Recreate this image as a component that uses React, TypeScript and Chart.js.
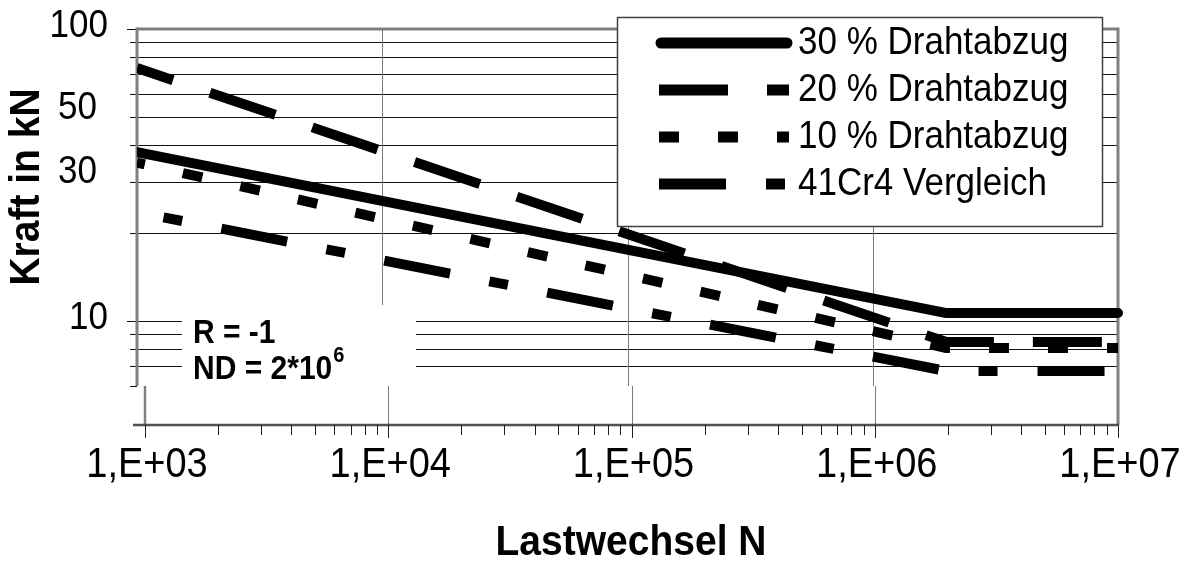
import React, { useEffect, useRef } from 'react';
import { Chart, registerables } from 'chart.js';

Chart.register(...registerables);

// ---------- data ----------
const seriesNames = ['30 % Drahtabzug', '20 % Drahtabzug', '10 % Drahtabzug', '41Cr4 Vergleich'];
const cycles = [1e3, 2e6, 1e7];
const force30 = [37.9, 10.65, 10.65];
const force20 = [73.5, 8.47, 8.47];
const force10 = [34.9, 8.08, 8.08];
const force41Cr4 = [23.6, 6.74, 6.74];

const xTicks = [1e3, 1e4, 1e5, 1e6, 1e7];
const xTickLabels = ['1,E+03', '1,E+04', '1,E+05', '1,E+06', '1,E+07'];
const yTicks = [100, 50, 30, 10];
const yTickLabels = ['100', '50', '30', '10'];
const yGrid = [7, 8, 9, 10, 20, 30, 40, 50, 60, 70, 80, 90];
const yMinorTicks = [6, 7, 8, 9, 20, 30, 40, 50, 60, 70, 80, 90];
const yMajorTicks = [10, 100];
const xGrid = [1e4, 1e5, 1e6];
const noteLine1 = 'R = -1';
const noteLine2 = 'ND = 2*10';
const noteSup = '6';
const xTitle = 'Lastwechsel N';
const yTitle = 'Kraft in kN';

// ---------- styles ----------
const FONT = "'Liberation Sans', Arial, Helvetica, sans-serif";
const STRETCH = 1.1; // reference text is slightly taller than plain Arial
const lineStyles = [
  { dash: [] as number[], cap: 'round', offset: 0 },
  { dash: [69, 39], cap: 'butt', offset: 31 },
  { dash: [20, 39], cap: 'butt', offset: 12 },
  { dash: [67, 40, 19, 40], cap: 'butt', offset: 80 },
];
const seriesValues = [force30, force20, force10, force41Cr4];

function text(ctx: CanvasRenderingContext2D, s: string, x: number, y: number, rot = 0) {
  ctx.save();
  ctx.translate(x, y);
  if (rot) ctx.rotate(rot);
  ctx.scale(1, STRETCH);
  ctx.fillText(s, 0, 0);
  ctx.restore();
}

export default function App() {
  const ref = useRef<HTMLCanvasElement>(null);

  useEffect(() => {
    document.body.style.margin = '0';
    const canvas = ref.current!;

    const SPLIT_VALUE = 6; // lower edge of upper plot panel
    const LOWER_SHIFT = 8; // lower panel's axis is slightly shifted

    const toLower = (a: any, u: number) => {
      const ll = a.left + LOWER_SHIFT;
      return ll + ((u - a.left) * (a.right - ll)) / (a.right - a.left);
    };

    const backdrop = {
      id: 'backdrop',
      beforeDatasetsDraw(chart: any) {
        const { ctx, chartArea: a, scales } = chart;
        const x = scales.x;
        const y = scales.y;
        const splitY = Math.round(y.getPixelForValue(SPLIT_VALUE));
        const lowerLeft = a.left + LOWER_SHIFT;
        ctx.save();
        ctx.fillStyle = '#fff';
        ctx.fillRect(0, 0, chart.width, chart.height);

        // horizontal gridlines + left ticks
        ctx.lineWidth = 1;
        ctx.strokeStyle = '#111';
        for (const v of yGrid) {
          const py = Math.round(y.getPixelForValue(v)) + 0.5;
          ctx.beginPath();
          ctx.moveTo(a.left, py);
          ctx.lineTo(a.right, py);
          ctx.stroke();
        }
        for (const v of yMinorTicks) {
          const py = Math.round(y.getPixelForValue(v)) + 0.5;
          ctx.beginPath();
          ctx.moveTo(a.left - 7, py);
          ctx.lineTo(a.left, py);
          ctx.stroke();
        }
        for (const v of yMajorTicks) {
          const py = Math.round(y.getPixelForValue(v)) + 0.5;
          ctx.beginPath();
          ctx.moveTo(a.left - 10, py);
          ctx.lineTo(a.left, py);
          ctx.stroke();
        }

        // vertical gridlines (upper and lower panel)
        ctx.strokeStyle = '#7a7a7a';
        for (const v of xGrid) {
          const u = x.getPixelForValue(v);
          const px = Math.round(u) + 0.5;
          ctx.beginPath();
          ctx.moveTo(px, a.top);
          ctx.lineTo(px, splitY);
          ctx.stroke();
          const lx = Math.round(toLower(a, u)) + 0.5;
          ctx.beginPath();
          ctx.moveTo(lx, splitY);
          ctx.lineTo(lx, a.bottom);
          ctx.stroke();
        }

        // white note box
        ctx.fillStyle = '#fff';
        ctx.fillRect(182, 305, 234, splitY - 305);

        // borders
        ctx.strokeStyle = '#808080';
        ctx.lineWidth = 3;
        ctx.beginPath();
        ctx.moveTo(a.left, a.top);
        ctx.lineTo(a.right, a.top);
        ctx.stroke();
        ctx.beginPath();
        ctx.moveTo(a.right, a.top - 1.5);
        ctx.lineTo(a.right, a.bottom);
        ctx.stroke();
        ctx.beginPath();
        ctx.moveTo(a.left, a.top - 1.5);
        ctx.lineTo(a.left, splitY);
        ctx.stroke();
        ctx.lineWidth = 2.5;
        ctx.beginPath();
        ctx.moveTo(lowerLeft, splitY);
        ctx.lineTo(lowerLeft, a.bottom);
        ctx.stroke();

        // x axis line and ticks (lower panel)
        ctx.strokeStyle = '#505050';
        ctx.lineWidth = 2.5;
        ctx.beginPath();
        ctx.moveTo(lowerLeft - 12, a.bottom);
        ctx.lineTo(a.right + 1, a.bottom);
        ctx.stroke();
        ctx.lineWidth = 1;
        ctx.strokeStyle = '#222';
        for (let d = 3; d <= 7; d++) {
          for (let k = 1; k <= 9; k++) {
            const v = k * Math.pow(10, d);
            if (v > 1e7) break;
            const lx = Math.round(toLower(a, x.getPixelForValue(v))) + 0.5;
            ctx.beginPath();
            ctx.moveTo(lx, a.bottom);
            ctx.lineTo(lx, a.bottom + (k === 1 ? 13 : 10));
            ctx.stroke();
          }
        }
        ctx.restore();
      },
      afterDraw(chart: any) {
        const { ctx, chartArea: a, scales } = chart;
        const x = scales.x;
        const y = scales.y;
        ctx.save();
        ctx.fillStyle = '#000';

        // y tick labels
        ctx.font = `35px ${FONT}`;
        ctx.textAlign = 'right';
        ctx.textBaseline = 'middle';
        yTicks.forEach((v, i) => {
          const decade = yMajorTicks.includes(v);
          const py = y.getPixelForValue(v) + (decade ? -3 : -9);
          text(ctx, yTickLabels[i], decade ? 108 : 97, py);
        });

        // x tick labels
        ctx.font = `38px ${FONT}`;
        ctx.textAlign = 'center';
        xTicks.forEach((v, i) => {
          const lx = toLower(a, x.getPixelForValue(v));
          text(ctx, xTickLabels[i], lx + 2, 465);
        });

        // axis titles
        ctx.font = `bold 39px ${FONT}`;
        text(ctx, xTitle, 631, 543);
        text(ctx, yTitle, 27, 187, -Math.PI / 2);

        // note
        ctx.textAlign = 'left';
        ctx.textBaseline = 'alphabetic';
        ctx.font = `bold 30px ${FONT}`;
        text(ctx, noteLine1, 193, 343);
        text(ctx, noteLine2, 193, 379);
        const w = ctx.measureText(noteLine2).width;
        ctx.font = `bold 20px ${FONT}`;
        text(ctx, noteSup, 193 + w + 1, 362);

        // legend
        const bx = 617, by = 17, bw = 485, bh = 209;
        ctx.fillStyle = '#fff';
        ctx.fillRect(bx, by, bw, bh);
        ctx.strokeStyle = '#404040';
        ctx.lineWidth = 1.5;
        ctx.strokeRect(bx + 0.5, by + 0.5, bw, bh);
        chart.data.datasets.forEach((ds: any, i: number) => {
          const ry = 43 + i * 47;
          ctx.save();
          ctx.strokeStyle = ds.borderColor;
          ctx.lineWidth = ds.borderWidth + 1;
          ctx.lineCap = ds.borderCapStyle;
          ctx.setLineDash(ds.borderDash);
          ctx.beginPath();
          const round = ds.borderCapStyle === 'round';
          ctx.moveTo(round ? 661 : 659, ry);
          ctx.lineTo(round ? 787 : 789, ry);
          ctx.stroke();
          ctx.restore();
          ctx.fillStyle = '#000';
          ctx.font = `35px ${FONT}`;
          ctx.textAlign = 'left';
          ctx.textBaseline = 'middle';
          text(ctx, ds.label, 798, ry);
        });
        ctx.restore();
      },
    };

    const chart = new Chart(canvas, {
      type: 'line',
      data: {
        datasets: seriesNames.map((name, i) => ({
          label: name,
          data: cycles.map((c, j) => ({ x: c, y: seriesValues[i][j] })),
          borderColor: '#000',
          borderWidth: 10,
          borderDash: lineStyles[i].dash,
          borderDashOffset: lineStyles[i].offset,
          borderCapStyle: lineStyles[i].cap as any,
          borderJoinStyle: 'round' as any,
          pointRadius: 0,
          tension: 0,
          fill: false,
          clip: { left: 0, top: 0, right: 8, bottom: 0 } as any,
        })),
      },
      options: {
        animation: false,
        responsive: false,
        events: [],
        layout: { padding: { left: 137, right: 70, top: 29, bottom: 145 } },
        scales: {
          x: { type: 'logarithmic', min: 1e3, max: 1e7, display: false },
          y: { type: 'logarithmic', min: 4.405, max: 100, display: false },
        },
        plugins: {
          legend: { display: false },
          tooltip: { enabled: false },
          title: { display: false },
        },
      },
      plugins: [backdrop],
    });

    return () => chart.destroy();
  }, []);

  return (
    <div style={{ width: 1188, height: 570 }}>
      <canvas ref={ref} width={1188} height={570} style={{ display: 'block' }} />
    </div>
  );
}
